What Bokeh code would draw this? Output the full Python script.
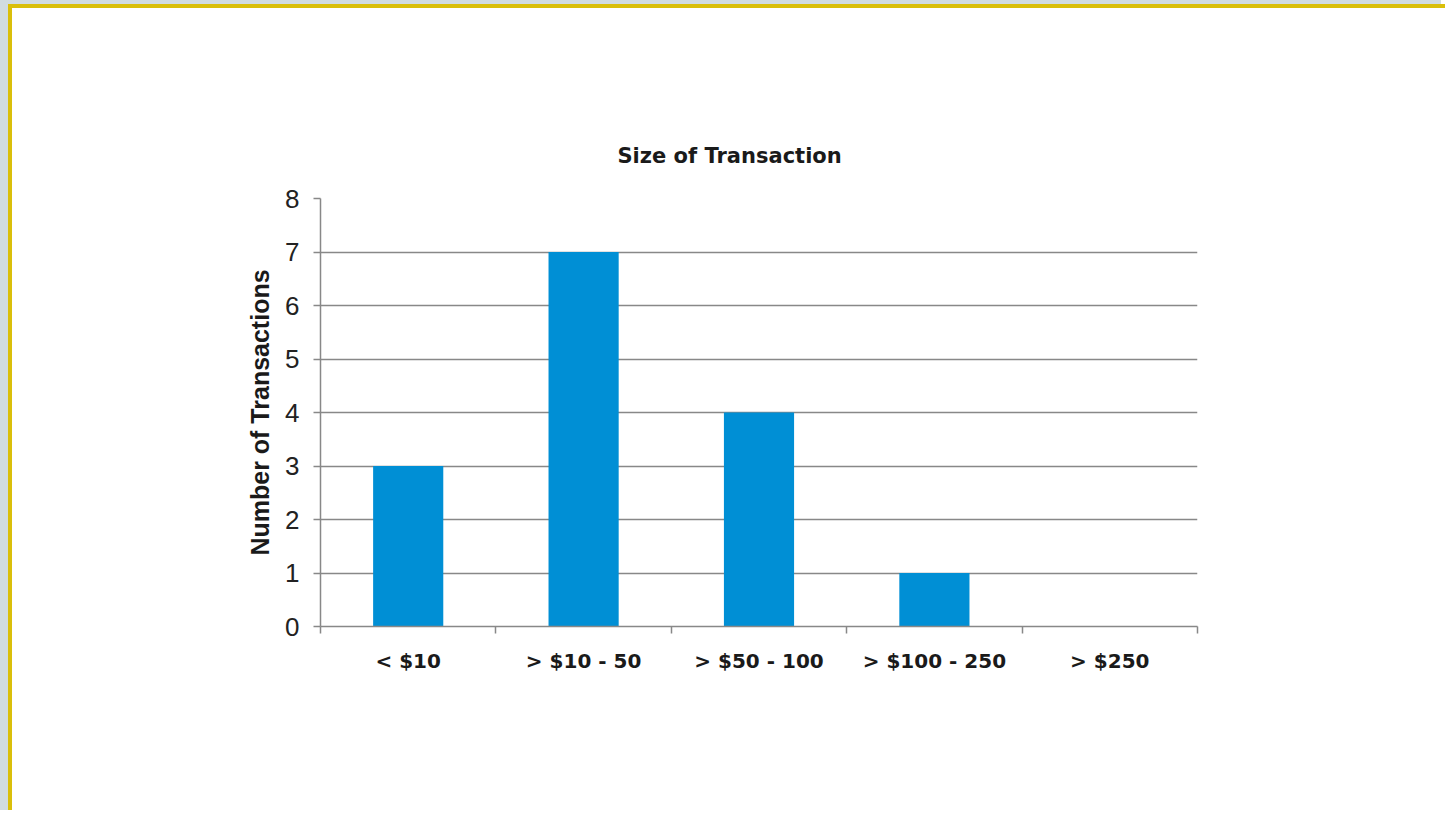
from bokeh.plotting import figure
from bokeh.models import FixedTicker, Range1d, Title, ColumnDataSource
from bokeh.embed import file_html
from bokeh.resources import INLINE

categories = ["< $10", "> $10 - 50", "> $50 - 100", "> $100 - 250", "> $250"]
counts = [3, 7, 4, 1, 0]
y_ticks = [0, 1, 2, 3, 4, 5, 6, 7, 8]

centers = [i + 0.5 for i in range(len(categories))]
bounds = [i for i in range(len(categories) + 1)]

src = ColumnDataSource(dict(x=centers, top=counts, cat=categories))

p = figure(width=1437, height=806, output_backend="svg", toolbar_location=None,
           x_range=Range1d(0, len(categories)), y_range=Range1d(0, 8),
           min_border_left=308, min_border_right=252, min_border_top=190,
           min_border_bottom=188)
p.styles = {"border-left": "4px solid #DABF0A", "border-top": "4px solid #DABF0A",
            "margin-left": "8px", "margin-top": "4px",
            "box-shadow": "-8px -4px 0 4px #D1DCE1"}
p.background_fill_color = "white"
p.border_fill_color = "white"
p.outline_line_color = None

p.vbar(x="x", top="top", width=0.4, bottom=0, source=src,
       fill_color="#008FD5", line_color=None)

t = Title(text="Size of Transaction", align="left", offset=297, standoff=61,
          text_font="DejaVu Sans", text_font_style="bold", text_font_size="21px",
          text_color="#1a1a1a")
p.title = t

# grid
p.xgrid.grid_line_color = None
p.ygrid.grid_line_color = "#888888"
p.ygrid.grid_line_width = 1.4
p.ygrid.ticker = FixedTicker(ticks=y_ticks)

# y axis
ya = p.yaxis[0]
ya.ticker = FixedTicker(ticks=y_ticks)
ya.axis_line_color = "#888888"
ya.axis_line_width = 1.5
ya.major_tick_line_color = "#888888"
ya.major_tick_line_width = 1.5
ya.major_tick_out = 7
ya.major_tick_in = 0
ya.minor_tick_line_color = None
ya.major_label_text_font = "Liberation Sans"
ya.major_label_text_font_size = "26px"
ya.major_label_text_color = "#222222"
ya.major_label_standoff = 14
ya.axis_label = "Number of Transactions"
ya.axis_label_text_font = "Liberation Sans"
ya.axis_label_text_font_style = "bold"
ya.axis_label_text_font_size = "25px"
ya.axis_label_text_color = "#1a1a1a"
ya.axis_label_standoff = 8

# x axis
xa = p.xaxis[0]
xa.ticker = FixedTicker(ticks=centers, minor_ticks=bounds)
xa.major_label_overrides = {c: lab for c, lab in zip(centers, categories)}
xa.axis_line_color = "#888888"
xa.axis_line_width = 1.5
xa.major_tick_line_color = None
xa.major_tick_out = 0
xa.major_tick_in = 0
xa.minor_tick_line_color = "#888888"
xa.minor_tick_line_width = 1.5
xa.minor_tick_out = 7
xa.minor_tick_in = 0
xa.major_label_text_font = "DejaVu Sans"
xa.major_label_text_font_style = "bold"
xa.major_label_text_font_size = "20px"
xa.major_label_text_color = "#1a1a1a"
xa.major_label_standoff = 15

open("out.html", "w").write(file_html(p, INLINE))
